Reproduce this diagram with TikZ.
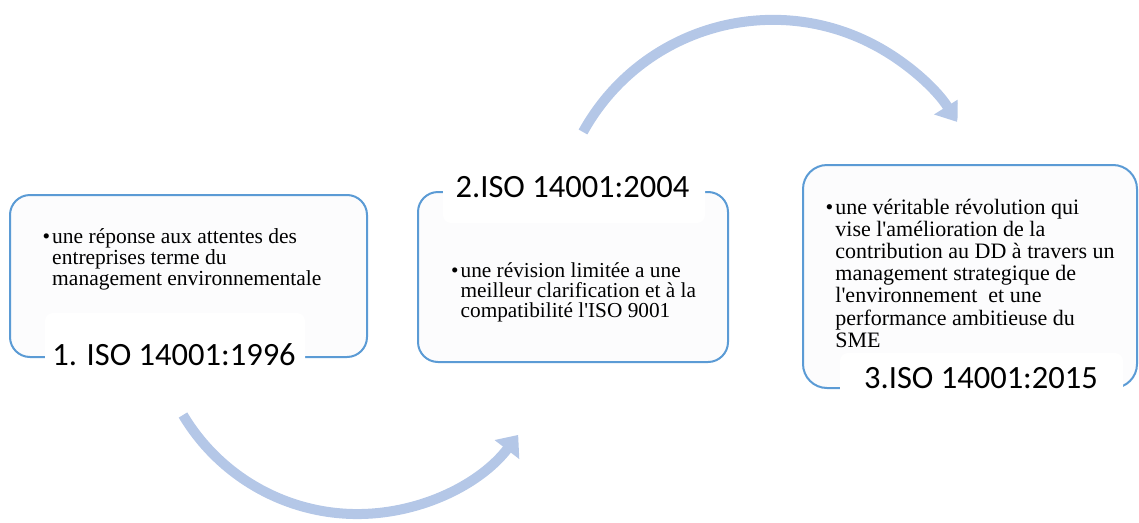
\documentclass[tikz,border=0pt]{standalone}
\usepackage{fontspec}
\setmainfont{Liberation Serif}
\newfontfamily\labelfont{Carlito}
\usetikzlibrary{arrows.meta}
\definecolor{boxblue}{HTML}{5B9BD5}
\definecolor{arrowblue}{HTML}{B4C7E7}
\definecolor{boxfill}{HTML}{FCFCFD}

% one bulleted line and its continuation lines, stacked at a fixed pitch
\newcommand\bulletrow[1]{\hbox{\textbullet\hspace{2pt}#1}}
\newcommand\controw[1]{\hbox{\phantom{\textbullet}\hspace{2pt}#1}}
\newcommand\textsize[2]{\fontsize{#1}{#2}\selectfont\lineskiplimit=-50pt\lineskip=0pt}

\begin{document}
\begin{tikzpicture}[x=1pt,y=-1pt,
  frame/.style={draw=boxblue, line width=2pt, fill=boxfill, rounded corners=20pt, inner sep=0pt},
  tab/.style={fill=white, rounded corners=8pt, inner sep=0pt},
  isolabel/.style={font=\labelfont\fontsize{32.5}{38}\selectfont, inner sep=0pt, anchor=base},
  bullettext/.style={inner sep=0pt, anchor=base west},
  bigarrow/.style={draw=arrowblue, line width=10pt, -{Triangle[length=18.5pt,width=30pt]}},
]
\useasboundingbox (0,0) rectangle (1139,522);

% curved arrows between the stages; the heads are cut off flat on the right
\begin{scope}
  \clip (0,0) rectangle (520.5,522);
  \coordinate (arcA) at (183,415);
  \draw[bigarrow] (arcA) arc[start angle=149.2, end angle=37.6, radius=203];
\end{scope}
\begin{scope}
  \clip (0,0) rectangle (957.5,522);
  \coordinate (arcB) at (583,132);
  \draw[bigarrow] (arcB) arc[start angle=-151.1, end angle=-32, radius=217];
\end{scope}

% stage frames
\node[frame, minimum width=357, minimum height=162] (box1) at (188.5,276) {};
\node[frame, minimum width=310, minimum height=170] (box2) at (573,277) {};
\node[frame, rounded corners=24pt, minimum width=334, minimum height=223] (box3) at (970,276.5) {};

% white tabs carrying the titles
\node[tab, minimum width=260, minimum height=84] (tab1) at (175,355) {};
\node[tab, minimum width=262, minimum height=58] (tab2) at (574,194) {};
\node[tab, minimum width=283, minimum height=57] (tab3) at (981.5,381.5) {};

\node[isolabel] (lab1) at (174,365) {1. ISO 14001:1996};
\node[isolabel] (lab2) at (572.5,197) {2.ISO 14001:2004};
\node[isolabel] (lab3) at (981,388) {3.ISO 14001:2015};

% descriptions
\node[bullettext] (txt1) at (42.5,243) {\textsize{21.5}{21}\vtop{%
  \bulletrow{une réponse aux attentes des}
  \controw{entreprises terme du}
  \controw{management environnementale}}};

\node[bullettext] (txt2) at (451,277) {\textsize{21.3}{20}\vtop{%
  \bulletrow{une révision limitée a une}
  \controw{meilleur clarification et à la}
  \controw{compatibilité l\textquotesingle ISO 9001}}};

\node[bullettext] (txt3) at (825.5,214) {\textsize{22}{22.2}\vtop{%
  \bulletrow{une véritable révolution qui}
  \controw{vise l\textquotesingle amélioration de la}
  \controw{contribution au DD à travers un}
  \controw{management strategique de}
  \controw{l\textquotesingle environnement\ \ et une}
  \controw{performance ambitieuse du}
  \controw{SME}}};
\end{tikzpicture}
\end{document}
